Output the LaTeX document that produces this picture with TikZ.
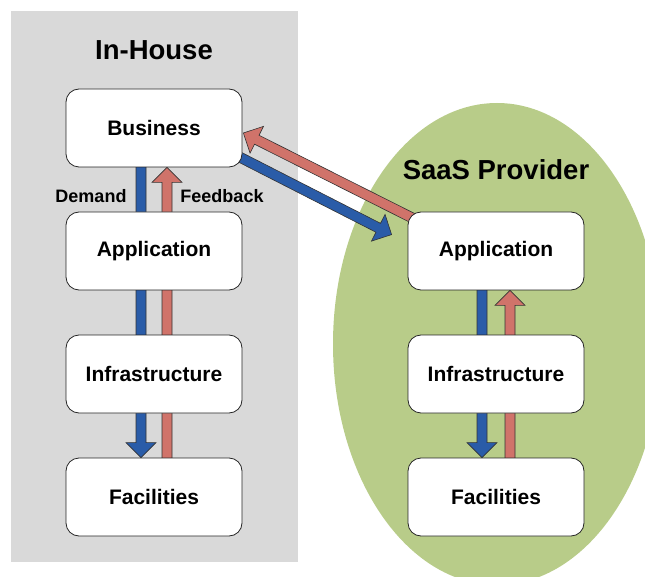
\documentclass[tikz,border=0pt]{standalone}
\usepackage{fontspec}
\setmainfont{Liberation Sans}
\usetikzlibrary{calc}
\definecolor{zonegray}{HTML}{D9D9D9}
\definecolor{zonegreen}{HTML}{B8CC89}
\definecolor{demandblue}{HTML}{2A5CA8}
\definecolor{feedbackred}{HTML}{D0736A}
\pgfdeclarelayer{zone}
\pgfdeclarelayer{flow}
\pgfsetlayers{zone,flow,main}
\tikzstyle{block} = [rectangle, draw=black!85, fill=white, line width=0.8pt,
    minimum width=176pt, minimum height=78pt, rounded corners=13pt,
    font=\fontsize{21}{25}\selectfont\bfseries]
\tikzstyle{title} = [font=\fontsize{27.5}{32}\selectfont\bfseries]
\tikzstyle{flowlabel} = [font=\fontsize{18}{22}\selectfont\bfseries]
\tikzstyle{arrowline} = [draw=black!80, line width=0.6pt, line join=miter]
% block arrow: fill colour, tail, tip
\newcommand{\blockarrow}[3]{%
  \coordinate (ah) at ($(#3)!15pt!(#2)$);
  \path [arrowline, fill=#1] ($(#2)!5pt!90:(#3)$) -- ($(ah)!5pt!90:(#3)$)
    -- ($(ah)!15pt!90:(#3)$) -- (#3) -- ($(ah)!15pt!-90:(#3)$)
    -- ($(ah)!5pt!-90:(#3)$) -- ($(#2)!5pt!-90:(#3)$) -- cycle;
}

\begin{document}
\begin{tikzpicture}[x=1pt, y=-1pt, node distance=123pt]
    \useasboundingbox (0,0) rectangle (645,577);
    % Place nodes
    \node [title] (inhouse) at (154,50) {In-House};
    \node [block] (biz) at (154,128) {Business};
    \node [block, below of=biz] (app) {Application};
    \node [block, below of=app] (infra) {Infrastructure};
    \node [block, below of=infra] (fac) {Facilities};
    \node [flowlabel] (dmd) at (91,196) {Demand};
    \node [flowlabel] (fbk) at (222,196) {Feedback};
    \node [title] (saas) at (496,170) {SaaS Provider};
    \node [block] (rapp) at (496,251) {Application};
    \node [block, below of=rapp] (rinfra) {Infrastructure};
    \node [block, below of=rinfra] (rfac) {Facilities};
    % Zones
    \begin{pgfonlayer}{zone}
        \fill [zonegray] (11,11) rectangle (298,562);
        \begin{scope}
            \clip (0,0) rectangle (645,577);
            \fill [zonegreen] (497,344) ellipse [x radius=164, y radius=241];
        \end{scope}
    \end{pgfonlayer}
    % Draw edges
    \coordinate (d1) at ($(biz.south)+(-13,-5)$);
    \coordinate (d2) at ($(fac.north)+(-13,0)$);
    \coordinate (f1) at ($(fac.north)+(13,5)$);
    \coordinate (f2) at ($(biz.south)+(13,0)$);
    \coordinate (rd1) at ($(rapp.south)+(-14,-5)$);
    \coordinate (rd2) at ($(rfac.north)+(-14,0)$);
    \coordinate (rf1) at ($(rfac.north)+(14,5)$);
    \coordinate (rf2) at ($(rapp.south)+(14,0)$);
    \coordinate (b1) at ($(biz.south east)+(-6,-12)$);
    \coordinate (b2) at ($(rapp.north west)+(-16,23)$);
    \coordinate (r1) at ($(rapp.north west)+(8,8)$);
    \coordinate (r2) at ($(biz.east)+(1,5)$);
    \begin{pgfonlayer}{flow}
        \blockarrow{demandblue}{d1}{d2}
        \blockarrow{feedbackred}{f1}{f2}
        \blockarrow{demandblue}{rd1}{rd2}
        \blockarrow{feedbackred}{rf1}{rf2}
        \blockarrow{demandblue}{b1}{b2}
        \blockarrow{feedbackred}{r1}{r2}
    \end{pgfonlayer}
\end{tikzpicture}
\end{document}
